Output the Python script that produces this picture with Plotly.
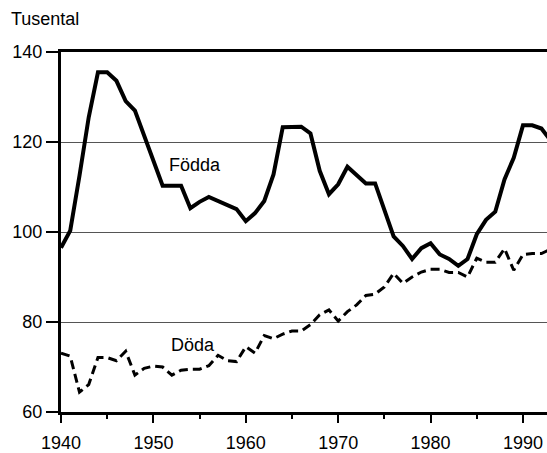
import plotly.graph_objects as go

years = list(range(1940, 1994))
fodda = [96.5, 100.3, 112.5, 125.5, 135.5, 135.5, 133.6, 129.1, 127.0, 121.5,
         116.4, 110.3, 110.3, 110.3, 105.3, 106.7, 107.8, 106.9, 105.8, 105.1,
         102.4, 104.2, 106.9, 112.8, 123.3, 123.4, 123.4, 121.9, 113.6, 108.4,
         110.6, 114.5, 112.5, 110.8, 110.8, 105.0, 99.0, 96.9, 94.0, 96.4,
         97.5, 95.0, 94.0, 92.5, 94.0, 99.5, 102.7, 104.5, 111.7, 116.5,
         123.7, 123.7, 123.0, 120.3]
doda = [73.1, 72.4, 64.4, 66.1, 72.1, 72.1, 71.4, 73.5, 68.2, 69.7,
        70.2, 70.0, 68.2, 69.3, 69.5, 69.5, 70.3, 72.6, 71.4, 71.2,
        74.5, 73.1, 77.0, 76.3, 77.3, 78.0, 78.0, 79.4, 81.6, 82.7,
        80.2, 82.3, 83.8, 85.9, 86.2, 87.8, 90.8, 88.6, 90.0, 91.1,
        91.7, 91.7, 91.0, 91.0, 90.0, 94.2, 93.3, 93.3, 96.3, 91.5,
        95.0, 95.2, 95.2, 96.2]
x_ticks = [1940, 1950, 1960, 1970, 1980, 1990]
y_ticks = [60, 80, 100, 120, 140]

FONT = "Liberation Sans, Arial, sans-serif"
FS = 18

L, T, B = 61, 52, 36
H = 453
PH = H - T - B

fig = go.Figure()
fig.add_trace(go.Scatter(x=years, y=fodda, mode="lines",
                         line=dict(color="black", width=4), name="Födda"))
fig.add_trace(go.Scatter(x=years, y=doda, mode="lines",
                         line=dict(color="black", width=3, dash="9px,5px"), name="Döda"))

fig.update_layout(
    width=547, height=H,
    margin=dict(l=L, r=0, t=T, b=B),
    paper_bgcolor="white", plot_bgcolor="white",
    showlegend=False,
    font=dict(family=FONT, size=FS, color="black"),
    xaxis=dict(range=[1940, 1992.6], tickvals=x_ticks, ticktext=[str(v) for v in x_ticks],
               showgrid=False, zeroline=False,
               showline=True, linecolor="black", linewidth=3, mirror=True,
               ticks="outside", ticklen=8, tickwidth=2, tickcolor="black",
               ticklabelstandoff=4,
               minor=dict(dtick=5, tick0=1945, ticks="outside", ticklen=4, tickwidth=2,
                          tickcolor="black", showgrid=False),
               tickfont=dict(family=FONT, size=FS)),
    yaxis=dict(range=[60, 140], tickvals=y_ticks, ticktext=[str(v) for v in y_ticks],
               showgrid=True, gridcolor="#555555", gridwidth=1, zeroline=False,
               showline=True, linecolor="black", linewidth=3,
               ticks="outside", ticklen=12, tickwidth=2, tickcolor="black",
               tickfont=dict(family=FONT, size=FS)),
)

fig.add_annotation(text="Tusental", xref="paper", yref="paper",
                   x=(9 - L) / 486, y=(H - B - 19) / PH, xanchor="left", yanchor="middle",
                   showarrow=False, font=dict(family=FONT, size=FS, color="black"))
fig.add_annotation(text="Födda", xref="x", yref="y", x=1954.5, y=114.8,
                   xanchor="center", yanchor="middle", showarrow=False,
                   font=dict(family=FONT, size=FS, color="black"))
fig.add_annotation(text="Döda", xref="x", yref="y", x=1954.3, y=75.0,
                   xanchor="center", yanchor="middle", showarrow=False,
                   font=dict(family=FONT, size=FS, color="black"))

fig.write_html("out.html", config={"displayModeBar": False},
               post_script="document.body.style.margin='0';")
